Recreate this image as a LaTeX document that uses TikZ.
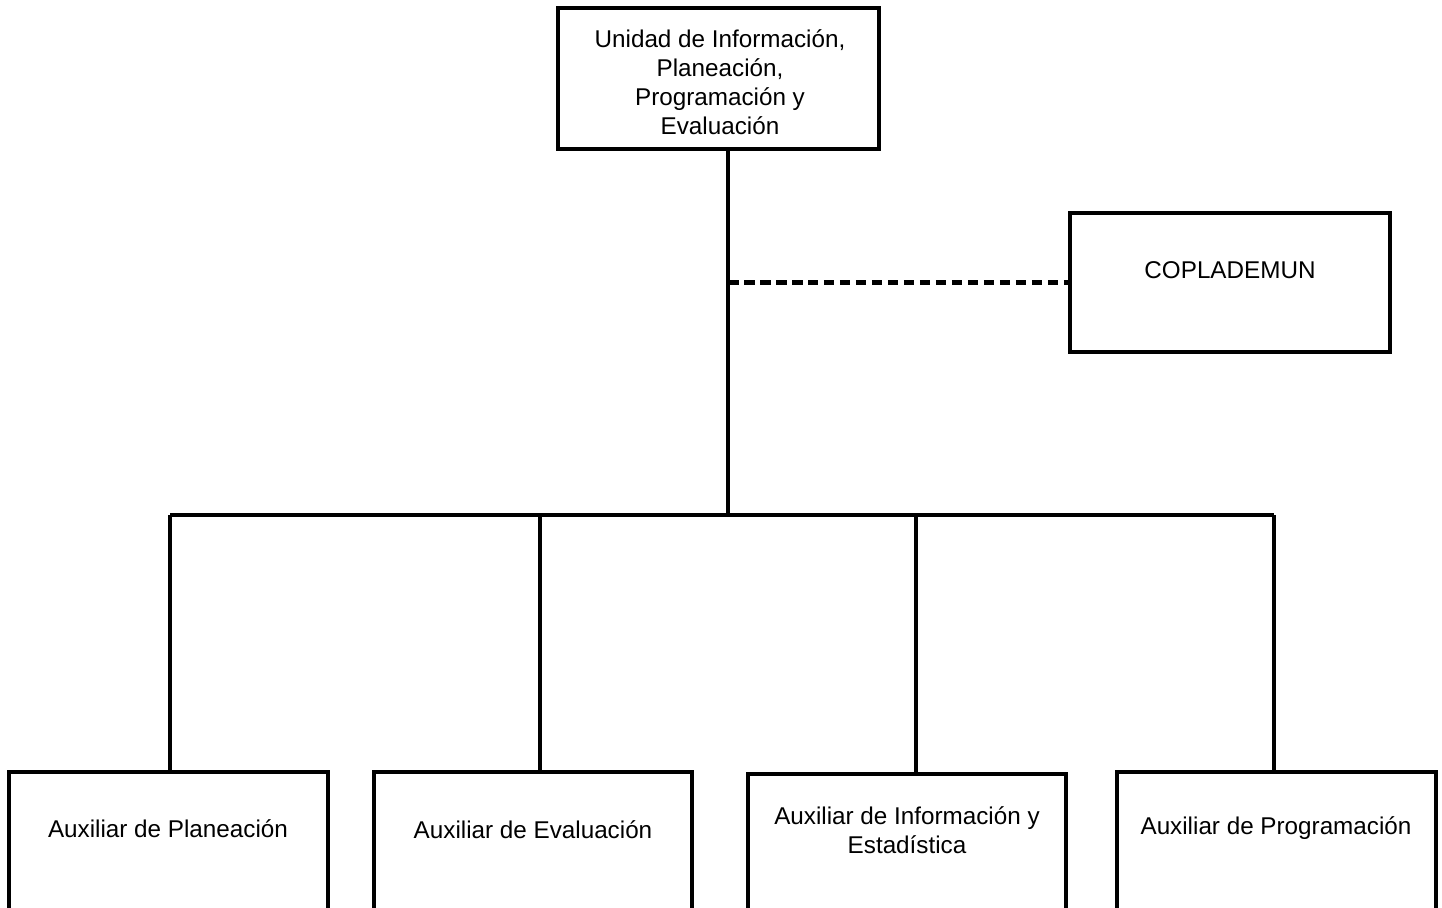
\documentclass[tikz,border=0pt]{standalone}
\usepackage{fontspec}
\setmainfont{Liberation Sans}
\usepackage{tikz}

\tikzset{
	box/.style={draw, line width=2.2pt, rectangle, fill=white, inner sep=0pt},
	txt/.style={align=center, font=\fontsize{13.8pt}{16.6pt}\selectfont},
	link/.style={line width=2pt},
}

\begin{document}
\begin{tikzpicture}[x=0.02cm, y=-0.02cm]
	% Page frame
	\useasboundingbox (0,0) rectangle (1442,907);
	\clip (0,0) rectangle (1442,907);
	
	% Define the boxes
	\node[box, minimum width=6.42cm, minimum height=2.82cm] (unidad) at (718.5,78.5) {};
	\node[box, minimum width=6.4cm, minimum height=2.78cm] (copla) at (1230,282.5) {};
	\node[box, minimum width=6.38cm, minimum height=4cm, anchor=north] (aux1) at (168.5,770) {};
	\node[box, minimum width=6.36cm, minimum height=4cm, anchor=north] (aux2) at (533,770) {};
	\node[box, minimum width=6.36cm, minimum height=4cm, anchor=north] (aux3) at (907,772) {};
	\node[box, minimum width=6.38cm, minimum height=4cm, anchor=north] (aux4) at (1276.5,770) {};
	
	% Texts of the boxes
	\node[txt] (tunidad) at (720,82) {Unidad de Información,\\Planeación,\\Programación y\\Evaluación};
	\node[txt] (tcopla) at (1230,270) {COPLADEMUN};
	\node[txt] (taux1) at (168,829) {Auxiliar de Planeación};
	\node[txt] (taux2) at (533,830) {Auxiliar de Evaluación};
	\node[txt] (taux3) at (907,830) {Auxiliar de Información y\\Estadística};
	\node[txt] (taux4) at (1276,828) {Auxiliar de Programación};
	
	% Define the branch points
	\coordinate (trunk) at (728,515);
	\coordinate (b1) at (170,515);
	\coordinate (b2) at (540,515);
	\coordinate (b3) at (916,515);
	\coordinate (b4) at (1274,515);
	
	% Draw the lines
	\draw[link] (unidad.south -| trunk) -- (trunk);
	\draw[link, line width=2.3pt, dash pattern=on 0.21cm off 0.11cm] (copla.west -| trunk) -- (copla.west);
	\draw[link] (b1) -- (b4);
	\draw[link] (b1) -- (b1 |- aux1.north);
	\draw[link] (b2) -- (b2 |- aux2.north);
	\draw[link] (b3) -- (b3 |- aux3.north);
	\draw[link] (b4) -- (b4 |- aux4.north);
\end{tikzpicture}
\end{document}
